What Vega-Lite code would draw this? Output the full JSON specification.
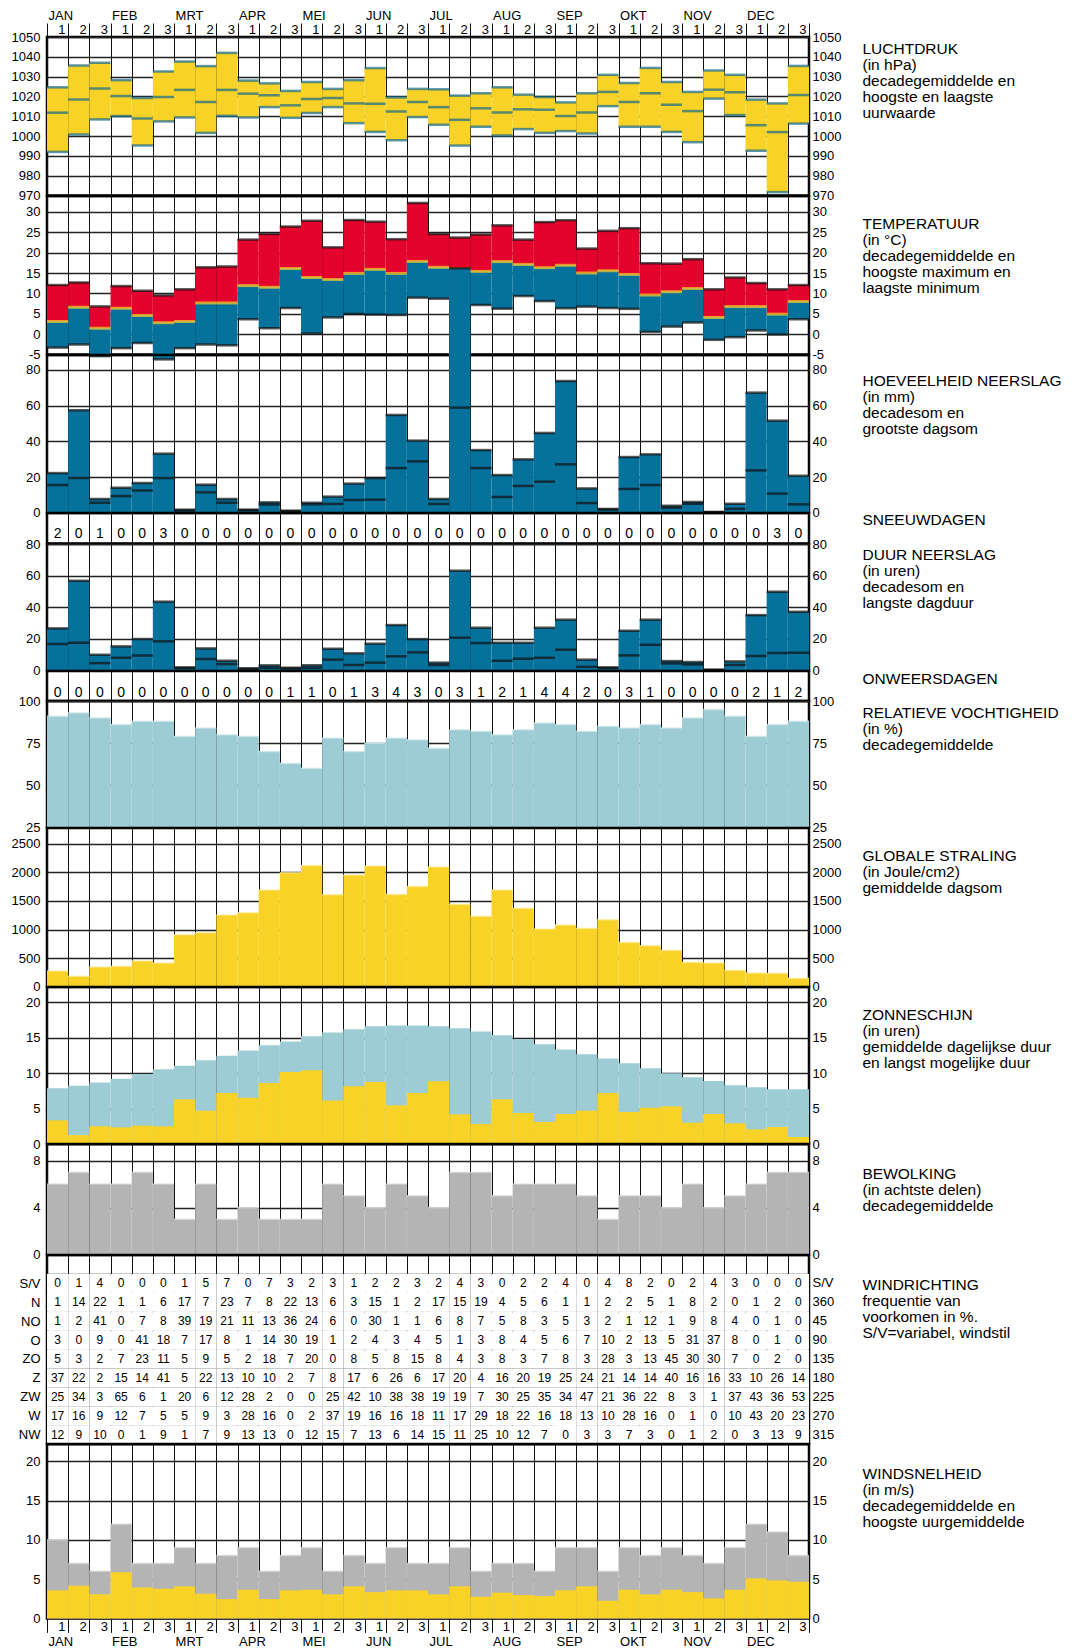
{
"$schema": "https://vega.github.io/schema/vega-lite/v6.json",
"padding": {"left": 9, "top": 7, "right": 5, "bottom": 5},
"background": "#ffffff",
"spacing": 0,
"bounds": "flush",
"data": {"values": [
{"dec":"JAN 1","ph":1024.6,"pm":1011.8,"pl":992.0,"tx":12.05,"tm":3.1,"tn":-3.3,"ns":22.2,"nm":15.5,"sn":2,"ds":26.6,"dm":16.7,"ow":0,"rh":91,"gs":274,"zm":7.86,"za":3.34,"bw":6,"wx":10,"wm":3.57,"S/V":0,"N":1,"NO":1,"O":3,"ZO":5,"Z":37,"ZW":25,"W":17,"NW":12},
{"dec":"JAN 2","ph":1035.6,"pm":1018.5,"pl":1000.8,"tx":12.7,"tm":6.6,"tn":-2.55,"ns":57.4,"nm":19.4,"sn":0,"ds":56.8,"dm":17.5,"ow":0,"rh":93,"gs":181,"zm":8.24,"za":1.27,"bw":7,"wx":7,"wm":4.16,"S/V":1,"N":14,"NO":2,"O":0,"ZO":3,"Z":22,"ZW":34,"W":16,"NW":9},
{"dec":"JAN 3","ph":1037.0,"pm":1024.0,"pl":1008.4,"tx":6.8,"tm":1.45,"tn":-5.4,"ns":7.7,"nm":5.6,"sn":1,"ds":9.9,"dm":4.6,"ow":0,"rh":90,"gs":344,"zm":8.7,"za":2.49,"bw":6,"wx":6,"wm":3.06,"S/V":4,"N":22,"NO":41,"O":9,"ZO":2,"Z":2,"ZW":3,"W":9,"NW":10},
{"dec":"FEB 1","ph":1028.2,"pm":1020.2,"pl":1010.1,"tx":11.8,"tm":6.35,"tn":-3.45,"ns":14.0,"nm":9.3,"sn":0,"ds":15.2,"dm":8.0,"ow":0,"rh":86,"gs":355,"zm":9.22,"za":2.35,"bw":6,"wx":12,"wm":5.86,"S/V":0,"N":1,"NO":0,"O":0,"ZO":7,"Z":15,"ZW":65,"W":12,"NW":0},
{"dec":"FEB 2","ph":1019.2,"pm":1008.9,"pl":995.2,"tx":10.65,"tm":4.6,"tn":-2.2,"ns":16.6,"nm":12.5,"sn":0,"ds":19.8,"dm":9.5,"ow":0,"rh":88,"gs":449,"zm":9.88,"za":2.59,"bw":7,"wx":7,"wm":3.95,"S/V":0,"N":1,"NO":7,"O":41,"ZO":23,"Z":14,"ZW":6,"W":7,"NW":1},
{"dec":"FEB 3","ph":1032.6,"pm":1019.7,"pl":1007.4,"tx":9.5,"tm":2.8,"tn":-6.2,"ns":33.1,"nm":19.4,"sn":3,"ds":43.5,"dm":18.4,"ow":0,"rh":88,"gs":414,"zm":10.54,"za":2.49,"bw":6,"wx":7,"wm":3.78,"S/V":0,"N":6,"NO":8,"O":18,"ZO":11,"Z":41,"ZW":1,"W":5,"NW":9},
{"dec":"MRT 1","ph":1037.6,"pm":1023.3,"pl":1009.4,"tx":11.0,"tm":3.1,"tn":-3.45,"ns":1.7,"nm":1.2,"sn":0,"ds":1.9,"dm":1.5,"ow":0,"rh":79,"gs":909,"zm":11.06,"za":6.31,"bw":3,"wx":9,"wm":4.08,"S/V":1,"N":17,"NO":39,"O":7,"ZO":5,"Z":5,"ZW":20,"W":5,"NW":1},
{"dec":"MRT 2","ph":1035.3,"pm":1017.2,"pl":1001.6,"tx":16.4,"tm":7.65,"tn":-2.55,"ns":15.7,"nm":11.4,"sn":0,"ds":13.9,"dm":7.2,"ow":0,"rh":84,"gs":944,"zm":11.81,"za":4.71,"bw":6,"wx":7,"wm":3.14,"S/V":5,"N":7,"NO":19,"O":17,"ZO":9,"Z":22,"ZW":6,"W":9,"NW":7},
{"dec":"MRT 3","ph":1042.0,"pm":1023.3,"pl":1010.2,"tx":16.6,"tm":7.65,"tn":-2.75,"ns":7.7,"nm":5.6,"sn":0,"ds":6.1,"dm":4.0,"ow":0,"rh":80,"gs":1253,"zm":12.47,"za":7.2,"bw":3,"wx":8,"wm":2.46,"S/V":7,"N":23,"NO":21,"O":8,"ZO":5,"Z":13,"ZW":12,"W":3,"NW":9},
{"dec":"APR 1","ph":1028.0,"pm":1021.4,"pl":1009.4,"tx":23.2,"tm":11.9,"tn":3.65,"ns":1.7,"nm":1.4,"sn":0,"ds":1.3,"dm":1.0,"ow":0,"rh":79,"gs":1294,"zm":13.22,"za":6.54,"bw":4,"wx":9,"wm":3.65,"S/V":0,"N":7,"NO":11,"O":1,"ZO":2,"Z":10,"ZW":28,"W":28,"NW":13},
{"dec":"APR 2","ph":1026.6,"pm":1020.6,"pl":1014.6,"tx":24.6,"tm":11.5,"tn":1.45,"ns":5.8,"nm":4.6,"sn":0,"ds":3.2,"dm":1.7,"ow":0,"rh":70,"gs":1690,"zm":13.93,"za":8.61,"bw":3,"wx":6,"wm":2.46,"S/V":7,"N":8,"NO":13,"O":14,"ZO":18,"Z":10,"ZW":2,"W":16,"NW":13},
{"dec":"APR 3","ph":1022.8,"pm":1015.5,"pl":1009.2,"tx":26.4,"tm":16.1,"tn":6.4,"ns":1.1,"nm":0.9,"sn":0,"ds":1.7,"dm":1.2,"ow":1,"rh":63,"gs":1993,"zm":14.49,"za":10.16,"bw":3,"wx":8,"wm":3.57,"S/V":3,"N":22,"NO":36,"O":30,"ZO":7,"Z":2,"ZW":0,"W":0,"NW":0},
{"dec":"MEI 1","ph":1027.3,"pm":1018.7,"pl":1011.6,"tx":27.8,"tm":13.9,"tn":0.15,"ns":5.6,"nm":4.8,"sn":0,"ds":3.2,"dm":1.7,"ow":1,"rh":60,"gs":2121,"zm":15.2,"za":10.4,"bw":3,"wx":9,"wm":3.65,"S/V":2,"N":13,"NO":24,"O":19,"ZO":20,"Z":7,"ZW":0,"W":2,"NW":12},
{"dec":"MEI 2","ph":1023.8,"pm":1019.2,"pl":1014.6,"tx":21.3,"tm":13.4,"tn":4.1,"ns":9.0,"nm":4.9,"sn":0,"ds":13.7,"dm":6.8,"ow":0,"rh":78,"gs":1609,"zm":15.76,"za":6.16,"bw":6,"wx":6,"wm":3.06,"S/V":3,"N":6,"NO":6,"O":1,"ZO":0,"Z":8,"ZW":25,"W":37,"NW":15},
{"dec":"MEI 3","ph":1028.2,"pm":1016.5,"pl":1006.5,"tx":28.0,"tm":14.9,"tn":4.95,"ns":16.3,"nm":7.1,"sn":0,"ds":10.8,"dm":3.4,"ow":1,"rh":70,"gs":1952,"zm":16.19,"za":8.14,"bw":5,"wx":8,"wm":4.08,"S/V":1,"N":3,"NO":0,"O":2,"ZO":8,"Z":17,"ZW":42,"W":19,"NW":7},
{"dec":"JUN 1","ph":1034.3,"pm":1016.3,"pl":1002.1,"tx":27.6,"tm":15.9,"tn":4.8,"ns":19.4,"nm":7.3,"sn":0,"ds":16.9,"dm":4.9,"ow":3,"rh":75,"gs":2110,"zm":16.61,"za":8.75,"bw":4,"wx":7,"wm":3.35,"S/V":2,"N":15,"NO":30,"O":4,"ZO":5,"Z":6,"ZW":10,"W":16,"NW":13},
{"dec":"JUN 2","ph":1019.5,"pm":1012.4,"pl":997.9,"tx":23.3,"tm":14.9,"tn":4.7,"ns":54.8,"nm":25.0,"sn":0,"ds":28.7,"dm":8.9,"ow":4,"rh":78,"gs":1614,"zm":16.75,"za":5.46,"bw":6,"wx":9,"wm":3.57,"S/V":2,"N":1,"NO":1,"O":3,"ZO":8,"Z":26,"ZW":38,"W":16,"NW":6},
{"dec":"JUN 3","ph":1023.8,"pm":1017.2,"pl":1009.6,"tx":32.2,"tm":17.85,"tn":8.95,"ns":40.4,"nm":28.8,"sn":0,"ds":19.8,"dm":11.4,"ow":3,"rh":77,"gs":1754,"zm":16.75,"za":7.2,"bw":5,"wx":7,"wm":3.57,"S/V":3,"N":2,"NO":1,"O":4,"ZO":15,"Z":6,"ZW":38,"W":18,"NW":14},
{"dec":"JUL 1","ph":1023.6,"pm":1014.6,"pl":1005.7,"tx":24.55,"tm":16.4,"tn":8.7,"ns":7.7,"nm":4.9,"sn":0,"ds":4.9,"dm":3.4,"ow":0,"rh":72,"gs":2092,"zm":16.61,"za":8.85,"bw":4,"wx":7,"wm":3.06,"S/V":2,"N":17,"NO":6,"O":5,"ZO":8,"Z":17,"ZW":19,"W":11,"NW":15},
{"dec":"JUL 2","ph":1020.4,"pm":1008.2,"pl":995.2,"tx":23.7,"tm":16.0,"tn":7.0,"ns":137,"nm":58.9,"sn":0,"ds":63.1,"dm":20.7,"ow":3,"rh":83,"gs":1440,"zm":16.33,"za":4.19,"bw":7,"wx":9,"wm":4.08,"S/V":4,"N":15,"NO":8,"O":1,"ZO":4,"Z":20,"ZW":19,"W":17,"NW":11},
{"dec":"JUL 3","ph":1021.6,"pm":1014.0,"pl":1004.7,"tx":24.45,"tm":15.4,"tn":7.15,"ns":35.1,"nm":25.0,"sn":0,"ds":27.0,"dm":17.3,"ow":1,"rh":82,"gs":1230,"zm":15.9,"za":2.82,"bw":7,"wx":6,"wm":2.76,"S/V":3,"N":19,"NO":7,"O":3,"ZO":3,"Z":4,"ZW":7,"W":29,"NW":25},
{"dec":"AUG 1","ph":1024.6,"pm":1011.9,"pl":1000.3,"tx":26.7,"tm":17.8,"tn":6.25,"ns":21.1,"nm":8.8,"sn":0,"ds":17.5,"dm":6.1,"ow":2,"rh":80,"gs":1690,"zm":15.34,"za":6.31,"bw":5,"wx":7,"wm":3.27,"S/V":0,"N":4,"NO":5,"O":8,"ZO":8,"Z":16,"ZW":30,"W":18,"NW":10},
{"dec":"AUG 2","ph":1020.9,"pm":1013.5,"pl":1003.5,"tx":23.2,"tm":17.1,"tn":9.35,"ns":29.9,"nm":15.0,"sn":0,"ds":17.5,"dm":7.4,"ow":1,"rh":83,"gs":1370,"zm":14.78,"za":4.38,"bw":6,"wx":7,"wm":2.97,"S/V":2,"N":5,"NO":8,"O":4,"ZO":3,"Z":20,"ZW":25,"W":22,"NW":12},
{"dec":"AUG 3","ph":1019.7,"pm":1013.3,"pl":1001.6,"tx":27.5,"tm":16.3,"tn":8.1,"ns":44.7,"nm":17.4,"sn":0,"ds":27.0,"dm":8.0,"ow":4,"rh":87,"gs":1008,"zm":14.07,"za":3.11,"bw":6,"wx":6,"wm":2.84,"S/V":2,"N":6,"NO":3,"O":5,"ZO":7,"Z":19,"ZW":35,"W":16,"NW":7},
{"dec":"SEP 1","ph":1017.0,"pm":1010.1,"pl":1002.5,"tx":27.95,"tm":16.9,"tn":6.35,"ns":73.8,"nm":27.1,"sn":0,"ds":32.1,"dm":13.1,"ow":4,"rh":86,"gs":1078,"zm":13.36,"za":4.24,"bw":6,"wx":9,"wm":3.57,"S/V":4,"N":1,"NO":5,"O":6,"ZO":8,"Z":25,"ZW":34,"W":18,"NW":0},
{"dec":"SEP 2","ph":1021.6,"pm":1011.9,"pl":1001.3,"tx":21.0,"tm":15.0,"tn":6.75,"ns":13.6,"nm":5.4,"sn":0,"ds":6.8,"dm":2.3,"ow":2,"rh":82,"gs":1020,"zm":12.66,"za":4.71,"bw":5,"wx":9,"wm":4.08,"S/V":0,"N":1,"NO":3,"O":7,"ZO":3,"Z":24,"ZW":47,"W":13,"NW":3},
{"dec":"SEP 3","ph":1030.9,"pm":1022.3,"pl":1015.1,"tx":25.35,"tm":15.55,"tn":6.4,"ns":2.1,"nm":1.8,"sn":0,"ds":1.9,"dm":1.5,"ow":0,"rh":85,"gs":1171,"zm":12.09,"za":7.2,"bw":3,"wx":6,"wm":2.25,"S/V":4,"N":2,"NO":2,"O":10,"ZO":28,"Z":21,"ZW":21,"W":10,"NW":3},
{"dec":"OKT 1","ph":1026.8,"pm":1017.2,"pl":1004.7,"tx":26.0,"tm":14.65,"tn":6.2,"ns":31.2,"nm":13.3,"sn":0,"ds":25.1,"dm":9.5,"ow":3,"rh":84,"gs":775,"zm":11.39,"za":4.52,"bw":5,"wx":9,"wm":3.65,"S/V":8,"N":2,"NO":1,"O":2,"ZO":3,"Z":14,"ZW":36,"W":28,"NW":7},
{"dec":"OKT 2","ph":1034.4,"pm":1021.6,"pl":1004.7,"tx":17.4,"tm":9.6,"tn":0.55,"ns":32.7,"nm":15.5,"sn":0,"ds":32.1,"dm":16.2,"ow":1,"rh":86,"gs":717,"zm":10.68,"za":5.13,"bw":5,"wx":8,"wm":3.06,"S/V":2,"N":5,"NO":12,"O":13,"ZO":13,"Z":14,"ZW":22,"W":16,"NW":3},
{"dec":"OKT 3","ph":1027.3,"pm":1015.8,"pl":1002.1,"tx":17.3,"tm":10.4,"tn":1.85,"ns":3.9,"nm":2.8,"sn":0,"ds":5.9,"dm":4.4,"ow":0,"rh":84,"gs":635,"zm":9.98,"za":5.32,"bw":4,"wx":9,"wm":3.65,"S/V":0,"N":1,"NO":1,"O":5,"ZO":45,"Z":40,"ZW":8,"W":0,"NW":0},
{"dec":"NOV 1","ph":1022.3,"pm":1012.6,"pl":996.9,"tx":18.4,"tm":11.2,"tn":2.85,"ns":6.0,"nm":5.0,"sn":0,"ds":5.3,"dm":3.8,"ow":0,"rh":90,"gs":425,"zm":9.41,"za":3.01,"bw":6,"wx":8,"wm":3.35,"S/V":2,"N":8,"NO":9,"O":31,"ZO":30,"Z":16,"ZW":3,"W":1,"NW":1},
{"dec":"NOV 2","ph":1033.1,"pm":1023.4,"pl":1018.9,"tx":11.0,"tm":4.1,"tn":-1.4,"ns":0.4,"nm":0.3,"sn":0,"ds":0.4,"dm":0.3,"ow":0,"rh":95,"gs":414,"zm":8.9,"za":4.24,"bw":4,"wx":7,"wm":2.55,"S/V":4,"N":2,"NO":8,"O":37,"ZO":30,"Z":16,"ZW":1,"W":0,"NW":2},
{"dec":"NOV 3","ph":1030.9,"pm":1022.1,"pl":1010.6,"tx":13.9,"tm":6.75,"tn":-0.75,"ns":5.0,"nm":2.1,"sn":0,"ds":5.7,"dm":3.4,"ow":0,"rh":91,"gs":286,"zm":8.28,"za":2.92,"bw":5,"wx":9,"wm":3.65,"S/V":3,"N":0,"NO":4,"O":8,"ZO":7,"Z":33,"ZW":37,"W":10,"NW":0},
{"dec":"DEC 1","ph":1018.4,"pm":1005.5,"pl":992.6,"tx":12.55,"tm":6.75,"tn":0.9,"ns":67.3,"nm":23.7,"sn":0,"ds":35.0,"dm":9.1,"ow":2,"rh":79,"gs":239,"zm":8.0,"za":2.07,"bw":6,"wx":12,"wm":5.1,"S/V":0,"N":1,"NO":0,"O":0,"ZO":0,"Z":10,"ZW":43,"W":43,"NW":3},
{"dec":"DEC 2","ph":1016.5,"pm":1002.0,"pl":971.7,"tx":11.0,"tm":4.9,"tn":-0.1,"ns":51.6,"nm":10.7,"sn":3,"ds":49.8,"dm":11.0,"ow":1,"rh":86,"gs":233,"zm":7.72,"za":2.4,"bw":7,"wx":11,"wm":4.84,"S/V":0,"N":2,"NO":1,"O":1,"ZO":2,"Z":26,"ZW":36,"W":20,"NW":13},
{"dec":"DEC 3","ph":1035.4,"pm":1020.7,"pl":1006.3,"tx":12.05,"tm":8.0,"tn":3.65,"ns":20.7,"nm":4.7,"sn":0,"ds":37.1,"dm":11.2,"ow":2,"rh":88,"gs":146,"zm":7.72,"za":0.99,"bw":7,"wx":8,"wm":4.67,"S/V":0,"N":0,"NO":0,"O":0,"ZO":0,"Z":14,"ZW":53,"W":23,"NW":9}
]},
"vconcat": [
{
 "width": 762, "height": 158.5,
 "layer": [
  {"mark": {"type": "bar", "color": "#F8D226"},
   "encoding": {
    "x": {"field": "dec", "type": "nominal", "sort": null, "title": null, "scale": {"type": "band", "paddingInner": 0, "paddingOuter": 0},
      "axis": {"orient": "top", "labels": false, "ticks": true, "tickSize": 14, "tickColor": "#111", "tickWidth": 1, "tickBand": "extent", "grid": true, "gridColor": "#111", "gridWidth": 1}},
    "y": {"field": "ph", "type": "quantitative", "scale": {"domain": [970, 1050], "nice": false, "zero": false},
      "axis": {"orient": "left", "values": [970,980,990,1000,1010,1020,1030,1040,1050], "grid": true, "title": null, "labelExpr": "datum.value", "labelPadding": 7}},
    "y2": {"field": "pl"}}},
  {"mark": {"type": "tick", "color": "#16698C", "thickness": 2.5, "size": 21.2},
   "encoding": {
    "x": {"field": "dec", "type": "nominal", "sort": null, "title": null, "scale": {"type": "band", "paddingInner": 0, "paddingOuter": 0},
      "axis": {"orient": "top", "grid": false, "labelAlign": "right", "labelBaseline": "middle", "labelOffset": 8, "labelPadding": 8, "labelExpr": "split(datum.value, ' ')[1]"}},
    "y": {"field": "ph", "type": "quantitative", "scale": {"domain": [970, 1050], "nice": false, "zero": false},
      "axis": {"orient": "right", "values": [970,980,990,1000,1010,1020,1030,1040,1050], "grid": false, "labelExpr": "datum.value", "labelPadding": 3,
        "title": ["LUCHTDRUK", "(in hPa)", "decadegemiddelde en", "hoogste en laagste", "uurwaarde"], "titleX": 53, "titleY": 16, "titleAngle": 0, "titleAlign": "left", "titleBaseline": "alphabetic"}}}},
  {"mark": {"type": "tick", "color": "#16698C", "thickness": 2.5, "size": 21.2},
   "encoding": {
    "x": {"field": "dec", "type": "nominal", "sort": null, "title": null, "scale": {"type": "band", "paddingInner": 0, "paddingOuter": 0},
      "axis": {"orient": "top", "grid": false, "labelAlign": "left", "labelBaseline": "middle", "labelOffset": -9, "labelPadding": 22, "labelExpr": "split(datum.value, ' ')[1] == '1' ? split(datum.value, ' ')[0] : ''"}},
    "y": {"field": "pm", "type": "quantitative", "scale": {"domain": [970, 1050], "nice": false, "zero": false}, "axis": null}}},
  {"mark": {"type": "tick", "color": "#16698C", "thickness": 2.5, "size": 21.2},
   "encoding": {
    "x": {"field": "dec", "type": "nominal", "sort": null, "title": null, "scale": {"type": "band", "paddingInner": 0, "paddingOuter": 0}, "axis": null},
    "y": {"field": "pl", "type": "quantitative", "scale": {"domain": [970, 1050], "nice": false, "zero": false}, "axis": null}}}
 ],
 "resolve": {"axis": {"x": "independent", "y": "independent"}}
},
{
 "width": 762, "height": 158.5,
 "layer": [
  {"mark": {"type": "bar", "color": "#E4032C"},
   "encoding": {
    "x": {"field": "dec", "type": "nominal", "sort": null, "title": null, "scale": {"type": "band", "paddingInner": 0, "paddingOuter": 0},
      "axis": {"orient": "bottom", "labels": false, "tickBand": "extent", "grid": true, "gridColor": "#111", "gridWidth": 1}},
    "y": {"field": "tx", "type": "quantitative", "scale": {"domain": [-5, 33.9], "nice": false, "zero": false},
      "axis": {"orient": "left", "values": [-5,0,5,10,15,20,25,30], "grid": true, "title": null, "labelExpr": "datum.value", "labelPadding": 7}},
    "y2": {"field": "tm"}}},
  {"mark": {"type": "bar", "color": "#06719B"},
   "encoding": {
    "x": {"field": "dec", "type": "nominal", "sort": null, "title": null, "scale": {"type": "band", "paddingInner": 0, "paddingOuter": 0}, "axis": null},
    "y": {"field": "tm", "type": "quantitative", "scale": {"domain": [-5, 33.9], "nice": false, "zero": false},
      "axis": {"orient": "right", "values": [-5,0,5,10,15,20,25,30], "grid": false, "labelExpr": "datum.value", "labelPadding": 3,
        "title": ["TEMPERATUUR", "(in °C)", "decadegemiddelde en", "hoogste maximum en", "laagste minimum"], "titleX": 53, "titleY": 32, "titleAngle": 0, "titleAlign": "left", "titleBaseline": "alphabetic"}},
    "y2": {"field": "tn"}}},
  {"mark": {"type": "tick", "color": "#111111", "thickness": 2.5, "size": 21.2},
   "encoding": {
    "x": {"field": "dec", "type": "nominal", "sort": null, "title": null, "scale": {"type": "band", "paddingInner": 0, "paddingOuter": 0}, "axis": null},
    "y": {"field": "tx", "type": "quantitative", "scale": {"domain": [-5, 33.9], "nice": false, "zero": false}, "axis": null}}},
  {"mark": {"type": "tick", "color": "#111111", "thickness": 2.5, "size": 21.2},
   "encoding": {
    "x": {"field": "dec", "type": "nominal", "sort": null, "title": null, "scale": {"type": "band", "paddingInner": 0, "paddingOuter": 0}, "axis": null},
    "y": {"field": "tn", "type": "quantitative", "scale": {"domain": [-5, 33.9], "nice": false, "zero": false}, "axis": null}}},
  {"mark": {"type": "tick", "color": "#F8D226", "thickness": 3, "size": 21.2},
   "encoding": {
    "x": {"field": "dec", "type": "nominal", "sort": null, "title": null, "scale": {"type": "band", "paddingInner": 0, "paddingOuter": 0}, "axis": null},
    "y": {"field": "tm", "type": "quantitative", "scale": {"domain": [-5, 33.9], "nice": false, "zero": false}, "axis": null}}}
 ],
 "resolve": {"axis": {"x": "independent", "y": "independent"}}
},
{
 "width": 762, "height": 157.7,
 "layer": [
  {"mark": {"type": "bar", "color": "#06719B"},
   "encoding": {
    "x": {"field": "dec", "type": "nominal", "sort": null, "title": null, "scale": {"type": "band", "paddingInner": 0, "paddingOuter": 0},
      "axis": {"orient": "bottom", "labels": false, "tickBand": "extent", "grid": true, "gridColor": "#111", "gridWidth": 1}},
    "y": {"field": "ns", "type": "quantitative", "scale": {"domain": [0, 88.4], "nice": false, "zero": false},
      "axis": {"orient": "left", "values": [0,20,40,60,80], "grid": true, "title": null, "labelExpr": "datum.value", "labelPadding": 7}},
    "y2": {"datum": 0}}},
  {"mark": {"type": "tick", "color": "#111111", "thickness": 2.5, "size": 21.2},
   "encoding": {
    "x": {"field": "dec", "type": "nominal", "sort": null, "title": null, "scale": {"type": "band", "paddingInner": 0, "paddingOuter": 0}, "axis": null},
    "y": {"field": "ns", "type": "quantitative", "scale": {"domain": [0, 88.4], "nice": false, "zero": false},
      "axis": {"orient": "right", "values": [0,20,40,60,80], "grid": false, "labelExpr": "datum.value", "labelPadding": 3,
        "title": ["HOEVEELHEID NEERSLAG", "(in mm)", "decadesom en", "grootste dagsom"], "titleX": 53, "titleY": 30, "titleAngle": 0, "titleAlign": "left", "titleBaseline": "alphabetic"}}}},
  {"mark": {"type": "tick", "color": "#111111", "thickness": 2.5, "size": 21.2},
   "encoding": {
    "x": {"field": "dec", "type": "nominal", "sort": null, "title": null, "scale": {"type": "band", "paddingInner": 0, "paddingOuter": 0}, "axis": null},
    "y": {"field": "nm", "type": "quantitative", "scale": {"domain": [0, 88.4], "nice": false, "zero": false}, "axis": null}}}
 ],
 "resolve": {"axis": {"x": "independent", "y": "independent"}}
},
{
 "width": 762, "height": 30.6,
 "mark": {"type": "text", "fontSize": 14, "baseline": "middle", "dy": 5.5, "color": "#000"},
 "encoding": {
  "x": {"field": "dec", "type": "nominal", "sort": null, "title": null, "scale": {"type": "band", "paddingInner": 0, "paddingOuter": 0},
    "axis": {"orient": "bottom", "labels": false, "tickBand": "extent", "grid": true, "gridColor": "#111", "gridWidth": 1}},
  "y": {"datum": "s", "type": "nominal", "scale": {"type": "band", "paddingInner": 0, "paddingOuter": 0},
    "axis": {"orient": "right", "labels": false, "grid": false, "title": ["SNEEUWDAGEN"], "titleX": 53, "titleY": 11, "titleAngle": 0, "titleAlign": "left", "titleBaseline": "alphabetic"}},
  "text": {"field": "sn", "type": "nominal"}
 }
},
{
 "width": 762, "height": 126.4,
 "layer": [
  {"mark": {"type": "bar", "color": "#06719B"},
   "encoding": {
    "x": {"field": "dec", "type": "nominal", "sort": null, "title": null, "scale": {"type": "band", "paddingInner": 0, "paddingOuter": 0},
      "axis": {"orient": "bottom", "labels": false, "tickBand": "extent", "grid": true, "gridColor": "#111", "gridWidth": 1}},
    "y": {"field": "ds", "type": "quantitative", "scale": {"domain": [0, 80], "nice": false, "zero": false},
      "axis": {"orient": "left", "values": [0,20,40,60,80], "grid": true, "title": null, "labelExpr": "datum.value", "labelPadding": 7}},
    "y2": {"datum": 0}}},
  {"mark": {"type": "tick", "color": "#111111", "thickness": 2.5, "size": 21.2},
   "encoding": {
    "x": {"field": "dec", "type": "nominal", "sort": null, "title": null, "scale": {"type": "band", "paddingInner": 0, "paddingOuter": 0}, "axis": null},
    "y": {"field": "ds", "type": "quantitative", "scale": {"domain": [0, 80], "nice": false, "zero": false},
      "axis": {"orient": "right", "values": [0,20,40,60,80], "grid": false, "labelExpr": "datum.value", "labelPadding": 3,
        "title": ["DUUR NEERSLAG", "(in uren)", "decadesom en", "langste dagduur"], "titleX": 53, "titleY": 15, "titleAngle": 0, "titleAlign": "left", "titleBaseline": "alphabetic"}}}},
  {"mark": {"type": "tick", "color": "#111111", "thickness": 2.5, "size": 21.2},
   "encoding": {
    "x": {"field": "dec", "type": "nominal", "sort": null, "title": null, "scale": {"type": "band", "paddingInner": 0, "paddingOuter": 0}, "axis": null},
    "y": {"field": "dm", "type": "quantitative", "scale": {"domain": [0, 80], "nice": false, "zero": false}, "axis": null}}}
 ],
 "resolve": {"axis": {"x": "independent", "y": "independent"}}
},
{
 "width": 762, "height": 30,
 "mark": {"type": "text", "fontSize": 14, "baseline": "middle", "dy": 7, "color": "#000"},
 "encoding": {
  "x": {"field": "dec", "type": "nominal", "sort": null, "title": null, "scale": {"type": "band", "paddingInner": 0, "paddingOuter": 0},
    "axis": {"orient": "bottom", "labels": false, "tickBand": "extent", "grid": true, "gridColor": "#111", "gridWidth": 1}},
  "y": {"datum": "o", "type": "nominal", "scale": {"type": "band", "paddingInner": 0, "paddingOuter": 0},
    "axis": {"orient": "right", "labels": false, "grid": false, "title": ["ONWEERSDAGEN"], "titleX": 53, "titleY": 12, "titleAngle": 0, "titleAlign": "left", "titleBaseline": "alphabetic"}},
  "text": {"field": "ow", "type": "nominal"}
 }
},
{
 "width": 762, "height": 126.3,
 "layer": [
  {"mark": {"type": "bar", "color": "#9DCCD4"},
   "encoding": {
    "x": {"field": "dec", "type": "nominal", "sort": null, "title": null, "scale": {"type": "band", "paddingInner": 0, "paddingOuter": 0},
      "axis": {"orient": "bottom", "labels": false, "tickBand": "extent", "grid": true, "gridColor": "#111", "gridWidth": 1}},
    "y": {"field": "rh", "type": "quantitative", "scale": {"domain": [25, 100], "nice": false, "zero": false},
      "axis": {"orient": "left", "values": [25,50,75,100], "grid": true, "title": null, "labelExpr": "datum.value", "labelPadding": 7}},
    "y2": {"datum": 25}}},
  {"mark": {"type": "tick", "color": "#D6EBEE", "thickness": 1.5, "size": 21.2},
   "encoding": {
    "x": {"field": "dec", "type": "nominal", "sort": null, "title": null, "scale": {"type": "band", "paddingInner": 0, "paddingOuter": 0}, "axis": null},
    "y": {"field": "rh", "type": "quantitative", "scale": {"domain": [25, 100], "nice": false, "zero": false},
      "axis": {"orient": "right", "values": [25,50,75,100], "grid": false, "labelExpr": "datum.value", "labelPadding": 3,
        "title": ["RELATIEVE VOCHTIGHEID", "(in %)", "decadegemiddelde"], "titleX": 53, "titleY": 16.5, "titleAngle": 0, "titleAlign": "left", "titleBaseline": "alphabetic"}}}}
 ],
 "resolve": {"axis": {"x": "independent", "y": "independent"}}
},
{
 "width": 762, "height": 158.7,
 "layer": [
  {"mark": {"type": "bar", "color": "#F8D226"},
   "encoding": {
    "x": {"field": "dec", "type": "nominal", "sort": null, "title": null, "scale": {"type": "band", "paddingInner": 0, "paddingOuter": 0},
      "axis": {"orient": "bottom", "labels": false, "tickBand": "extent", "grid": true, "gridColor": "#111", "gridWidth": 1}},
    "y": {"field": "gs", "type": "quantitative", "scale": {"domain": [0, 2775], "nice": false, "zero": false},
      "axis": {"orient": "left", "values": [0,500,1000,1500,2000,2500], "grid": true, "title": null, "labelExpr": "datum.value", "labelPadding": 7}},
    "y2": {"datum": 0}}},
  {"mark": {"type": "tick", "color": "#FCEB98", "thickness": 1.5, "size": 21.2},
   "encoding": {
    "x": {"field": "dec", "type": "nominal", "sort": null, "title": null, "scale": {"type": "band", "paddingInner": 0, "paddingOuter": 0}, "axis": null},
    "y": {"field": "gs", "type": "quantitative", "scale": {"domain": [0, 2775], "nice": false, "zero": false},
      "axis": {"orient": "right", "values": [0,500,1000,1500,2000,2500], "grid": false, "labelExpr": "datum.value", "labelPadding": 3,
        "title": ["GLOBALE STRALING", "(in Joule/cm2)", "gemiddelde dagsom"], "titleX": 53, "titleY": 32, "titleAngle": 0, "titleAlign": "left", "titleBaseline": "alphabetic"}}}}
 ],
 "resolve": {"axis": {"x": "independent", "y": "independent"}}
},
{
 "width": 762, "height": 157,
 "layer": [
  {"mark": {"type": "bar", "color": "#9DCCD4"},
   "encoding": {
    "x": {"field": "dec", "type": "nominal", "sort": null, "title": null, "scale": {"type": "band", "paddingInner": 0, "paddingOuter": 0},
      "axis": {"orient": "bottom", "labels": false, "tickBand": "extent", "grid": true, "gridColor": "#111", "gridWidth": 1}},
    "y": {"field": "zm", "type": "quantitative", "scale": {"domain": [0, 22.17], "nice": false, "zero": false},
      "axis": {"orient": "left", "values": [0,5,10,15,20], "grid": true, "title": null, "labelExpr": "datum.value", "labelPadding": 7}},
    "y2": {"datum": 0}}},
  {"mark": {"type": "bar", "color": "#F8D226"},
   "encoding": {
    "x": {"field": "dec", "type": "nominal", "sort": null, "title": null, "scale": {"type": "band", "paddingInner": 0, "paddingOuter": 0}, "axis": null},
    "y": {"field": "za", "type": "quantitative", "scale": {"domain": [0, 22.17], "nice": false, "zero": false},
      "axis": {"orient": "right", "values": [0,5,10,15,20], "grid": false, "labelExpr": "datum.value", "labelPadding": 3,
        "title": ["ZONNESCHIJN", "(in uren)", "gemiddelde dagelijkse duur", "en langst mogelijke duur"], "titleX": 53, "titleY": 32, "titleAngle": 0, "titleAlign": "left", "titleBaseline": "alphabetic"}},
    "y2": {"datum": 0}}}
 ],
 "resolve": {"axis": {"x": "independent", "y": "independent"}}
},
{
 "width": 762, "height": 110.6,
 "layer": [
  {"mark": {"type": "bar", "color": "#B4B4B4"},
   "encoding": {
    "x": {"field": "dec", "type": "nominal", "sort": null, "title": null, "scale": {"type": "band", "paddingInner": 0, "paddingOuter": 0},
      "axis": {"orient": "bottom", "labels": false, "tickBand": "extent", "grid": true, "gridColor": "#111", "gridWidth": 1}},
    "y": {"field": "bw", "type": "quantitative", "scale": {"domain": [0, 9.41], "nice": false, "zero": false},
      "axis": {"orient": "left", "values": [0,4,8], "grid": true, "title": null, "labelExpr": "datum.value", "labelPadding": 7}},
    "y2": {"datum": 0}}},
  {"mark": {"type": "tick", "color": "#DADADA", "thickness": 1.5, "size": 21.2},
   "encoding": {
    "x": {"field": "dec", "type": "nominal", "sort": null, "title": null, "scale": {"type": "band", "paddingInner": 0, "paddingOuter": 0}, "axis": null},
    "y": {"field": "bw", "type": "quantitative", "scale": {"domain": [0, 9.41], "nice": false, "zero": false},
      "axis": {"orient": "right", "values": [0,4,8], "grid": false, "labelExpr": "datum.value", "labelPadding": 3,
        "title": ["BEWOLKING", "(in achtste delen)", "decadegemiddelde"], "titleX": 53, "titleY": 34, "titleAngle": 0, "titleAlign": "left", "titleBaseline": "alphabetic"}}}}
 ],
 "resolve": {"axis": {"x": "independent", "y": "independent"}}
},
{
 "width": 762, "height": 189,
 "transform": [{"fold": ["S/V", "N", "NO", "O", "ZO", "Z", "ZW", "W", "NW"], "as": ["key", "val"]}],
 "layer": [
  {"mark": {"type": "rect", "fill": "#ffffff"},
   "encoding": {
    "x": {"field": "dec", "type": "nominal", "sort": null, "title": null, "scale": {"type": "band", "paddingInner": 0, "paddingOuter": 0},
      "axis": {"orient": "bottom", "labels": false, "tickBand": "extent", "grid": true, "gridColor": "#111", "gridWidth": 1}},
    "y": {"field": "key", "type": "nominal", "title": null,
      "scale": {"type": "band", "domain": ["S/V", "N", "NO", "O", "ZO", "Z", "ZW", "W", "NW"], "paddingInner": 0, "paddingOuter": 0.5, "align": 1},
      "axis": {"orient": "left", "grid": true, "tickBand": "extent", "title": null, "labelPadding": 7,
        "gridOpacity": {"condition": {"test": "datum.value === 'S/V'", "value": 0}, "value": 1}}}}},
  {"mark": {"type": "text", "fontSize": 12, "baseline": "middle", "color": "#000"},
   "encoding": {
    "x": {"field": "dec", "type": "nominal", "sort": null, "title": null, "scale": {"type": "band", "paddingInner": 0, "paddingOuter": 0}, "axis": null},
    "y": {"field": "key", "type": "nominal", "title": null,
      "scale": {"type": "band", "domain": ["S/V", "N", "NO", "O", "ZO", "Z", "ZW", "W", "NW"], "paddingInner": 0, "paddingOuter": 0.5, "align": 1},
      "axis": {"orient": "right", "grid": false, "labelPadding": 3,
        "labelExpr": "['S/V','360','45','90','135','180','225','270','315'][indexof(['S/V','N','NO','O','ZO','Z','ZW','W','NW'], datum.value)]",
        "title": ["WINDRICHTING", "frequentie van", "voorkomen in %.", "S/V=variabel, windstil"], "titleX": 53, "titleY": 34, "titleAngle": 0, "titleAlign": "left", "titleBaseline": "alphabetic"}},
    "text": {"field": "val", "type": "nominal"}}}
 ],
 "resolve": {"axis": {"x": "independent", "y": "independent"}}
},
{
 "width": 762, "height": 174.4,
 "layer": [
  {"mark": {"type": "bar", "color": "#B4B4B4"},
   "encoding": {
    "x": {"field": "dec", "type": "nominal", "sort": null, "title": null, "scale": {"type": "band", "paddingInner": 0, "paddingOuter": 0},
      "axis": {"orient": "bottom", "labels": false, "ticks": true, "tickSize": 14, "tickColor": "#111", "tickWidth": 1, "tickBand": "extent", "grid": true, "gridColor": "#111", "gridWidth": 1}},
    "y": {"field": "wx", "type": "quantitative", "scale": {"domain": [0, 22.2], "nice": false, "zero": false},
      "axis": {"orient": "left", "values": [0,5,10,15,20], "grid": true, "title": null, "labelExpr": "datum.value", "labelPadding": 7}},
    "y2": {"datum": 0}}},
  {"mark": {"type": "bar", "color": "#F8D226"},
   "encoding": {
    "x": {"field": "dec", "type": "nominal", "sort": null, "title": null, "scale": {"type": "band", "paddingInner": 0, "paddingOuter": 0},
      "axis": {"orient": "bottom", "grid": false, "labelAlign": "right", "labelBaseline": "middle", "labelOffset": 8, "labelPadding": 8, "labelExpr": "split(datum.value, ' ')[1]"}},
    "y": {"field": "wm", "type": "quantitative", "scale": {"domain": [0, 22.2], "nice": false, "zero": false},
      "axis": {"orient": "right", "values": [0,5,10,15,20], "grid": false, "labelExpr": "datum.value", "labelPadding": 3,
        "title": ["WINDSNELHEID", "(in m/s)", "decadegemiddelde en", "hoogste uurgemiddelde"], "titleX": 53, "titleY": 34, "titleAngle": 0, "titleAlign": "left", "titleBaseline": "alphabetic"}},
    "y2": {"datum": 0}}},
  {"mark": {"type": "tick", "color": "#D4D4D4", "thickness": 1.5, "size": 21.2},
   "encoding": {
    "x": {"field": "dec", "type": "nominal", "sort": null, "title": null, "scale": {"type": "band", "paddingInner": 0, "paddingOuter": 0},
      "axis": {"orient": "bottom", "grid": false, "labelAlign": "left", "labelBaseline": "middle", "labelOffset": -9, "labelPadding": 23, "labelExpr": "split(datum.value, ' ')[1] == '1' ? split(datum.value, ' ')[0] : ''"}},
    "y": {"field": "wx", "type": "quantitative", "scale": {"domain": [0, 22.2], "nice": false, "zero": false}, "axis": null}}}
 ],
 "resolve": {"axis": {"x": "independent", "y": "independent"}}
}
],
"config": {
 "font": "Liberation Sans",
 "view": {"stroke": "#000", "strokeWidth": 2.5},
 "axis": {"labelFont": "Liberation Sans", "labelFontSize": 13, "labelColor": "#000", "domain": false, "ticks": false, "gridColor": "#222", "gridWidth": 1.4, "gridOpacity": 1,
   "titleFont": "Liberation Sans", "titleFontSize": 15.5, "titleFontWeight": "normal", "titleColor": "#000", "titleLineHeight": 16,
   "labelOverlap": false, "labelAngle": 0, "zindex": 1},
 "text": {"font": "Liberation Sans"}
}
}
